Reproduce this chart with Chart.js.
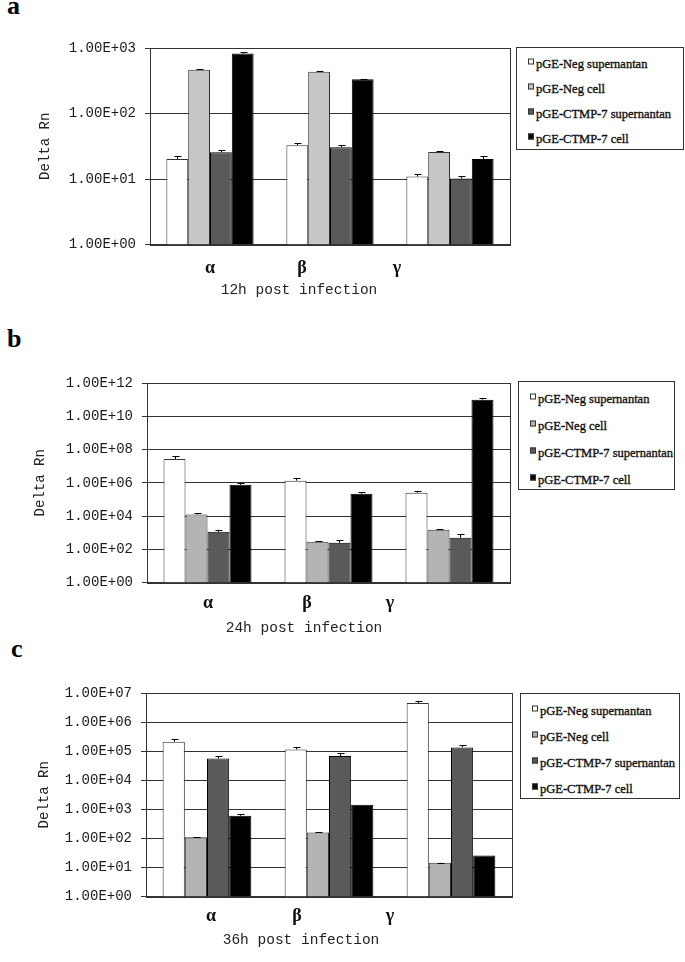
<!DOCTYPE html>
<html>
<head>
<meta charset="utf-8">
<script src="https://cdn.jsdelivr.net/npm/chart.js@4.4.1/dist/chart.umd.min.js"></script>
<style>
  body { margin: 0; background: #fff; }
  #page { position: relative; width: 685px; height: 962px; overflow: hidden; }
  canvas { position: absolute; left: 0; }
  .tag { position: absolute; font: bold 26px "Liberation Serif", serif; line-height: 26px; color: #000; }
  .cat { position: absolute; font: bold 18px "Liberation Serif", serif; line-height: 18px; transform: translate(-50%, -50%); color: #111; }
  .xtitle { position: absolute; font: 14.5px "Liberation Mono", monospace; line-height: 16px; transform: translate(-50%, -50%); color: #222; white-space: nowrap; }
  .legend { position: absolute; border: 1px solid #333; box-sizing: border-box; background: #fff; }
  .legend div { position: absolute; left: 11px; display: flex; align-items: center; font: 12.5px "Liberation Serif", serif; -webkit-text-stroke: 0.35px #111; color: #111; white-space: nowrap; transform: translateY(-50%); }
  .legend i { display: inline-block; width: 4px; height: 4px; border: 1px solid #333; margin-right: 2px; position: relative; top: -3px; }
</style>
</head>
<body>
<div id="page"></div>
<script>
// categorias e séries
const categories = ['α', 'β', 'γ'];
const seriesNames = ['pGE-Neg supernantan', 'pGE-Neg cell', 'pGE-CTMP-7 supernantan', 'pGE-CTMP-7 cell'];

// a) 12h
const ticks12 = [1, 10, 100, 1000];
const negSup12 = [20.2, 32.8, 10.9];
const negCell12 = [467, 435, 25.9];
const ctmpSup12 = [25.6, 30.6, 10.2];
const ctmpCell12 = [821, 333, 20.2];
const negSupErr12 = [2, 2.7, 1.1];
const negCellErr12 = [15, 15, 0.9];
const ctmpSupErr12 = [2.5, 2.2, 1.1];
const ctmpCellErr12 = [60, 7, 2];

// b) 24h
const ticks24 = [1, 1e2, 1e4, 1e6, 1e8, 1e10, 1e12];
const negSup24 = [2.7e7, 1.34e6, 2.5e5];
const negCell24 = [1.25e4, 282, 1490];
const ctmpSup24 = [1130, 246, 493];
const ctmpCell24 = [7.6e5, 2.2e5, 1.0e11];
const negSupErr24 = [1.2e7, 5.1e5, 8e4];
const negCellErr24 = [1900, 42, 220];
const ctmpSupErr24 = [360, 143, 365];
const ctmpCellErr24 = [1.5e5, 7e4, 2e10];

// c) 36h
const ticks36 = [1, 10, 100, 1e3, 1e4, 1e5, 1e6, 1e7];
const negSup36 = [2.1e5, 1.15e5, 4.5e6];
const negCell36 = [110, 160, 14.5];
const ctmpSup36 = [5.6e4, 6.8e4, 1.35e5];
const ctmpCell36 = [600, 1440, 25.8];
const negSupErr36 = [4.2e4, 2.3e4, 9e5];
const negCellErr36 = [2, 3, 0.3];
const ctmpSupErr36 = [1.3e4, 1.6e4, 2.7e4];
const ctmpCellErr36 = [66, 0, 0];

const panels = [
  {
    tag: 'a', tagPos: [7, -7], canvasTop: 20, plot: { left: 150, top: 48, right: 510, bottom: 244 }, titleLeft: 37,
    legend: { x: 516, y: 47, w: 168, h: 103, first: 16, step: 25 },
    catX: [210, 302, 397], catY: 267, xTitle: '12h post infection', xTitlePos: [299, 290],
    fills: ['#ffffff', '#c6c6c6', '#5a5a5a', '#000000'],
    ticks: ticks12,
    values: [negSup12, negCell12, ctmpSup12, ctmpCell12],
    errors: [negSupErr12, negCellErr12, ctmpSupErr12, ctmpCellErr12]
  },
  {
    tag: 'b', tagPos: [7, 326], canvasTop: 350, plot: { left: 147, top: 383, right: 510, bottom: 582 }, titleLeft: 32,
    legend: { x: 518, y: 381, w: 157, h: 109, first: 17, step: 27 },
    catX: [208, 307, 390], catY: 602, xTitle: '24h post infection', xTitlePos: [304, 628],
    fills: ['#ffffff', '#b4b4b4', '#5a5a5a', '#000000'],
    ticks: ticks24,
    values: [negSup24, negCell24, ctmpSup24, ctmpCell24],
    errors: [negSupErr24, negCellErr24, ctmpSupErr24, ctmpCellErr24]
  },
  {
    tag: 'c', tagPos: [11, 636], canvasTop: 660, plot: { left: 146, top: 693, right: 512, bottom: 896 }, titleLeft: 36,
    legend: { x: 520, y: 693, w: 160, h: 106, first: 17, step: 26 },
    catX: [211, 297, 390], catY: 915, xTitle: '36h post infection', xTitlePos: [301, 940],
    fills: ['#ffffff', '#b4b4b4', '#5a5a5a', '#000000'],
    ticks: ticks36,
    values: [negSup36, negCell36, ctmpSup36, ctmpCell36],
    errors: [negSupErr36, negCellErr36, ctmpSupErr36, ctmpCellErr36]
  }
];

// barras de erro (só para cima) e moldura da área do gráfico
const errorBars = {
  id: 'errorBars',
  beforeDatasetsDraw(chart) {
    const { ctx, chartArea: a } = chart;
    ctx.save();
    ctx.strokeStyle = '#333';
    ctx.lineWidth = 1;
    ctx.strokeRect(Math.round(a.left) + 0.5, Math.round(a.top) + 0.5, Math.round(a.right - a.left), Math.round(a.bottom - a.top));
    ctx.restore();
  },
  afterDatasetsDraw(chart) {
    const ctx = chart.ctx;
    const y = chart.scales.y;
    ctx.save();
    ctx.strokeStyle = '#000';
    ctx.lineWidth = 1;
    chart.data.datasets.forEach((ds, i) => {
      chart.getDatasetMeta(i).data.forEach((bar, j) => {
        const e = ds.errors[j];
        if (!e) return;
        const x = Math.round(bar.x) + 0.5;
        const top = Math.round(y.getPixelForValue(ds.data[j] + e)) + 0.5;
        ctx.beginPath();
        ctx.moveTo(x, bar.y);
        ctx.lineTo(x, top);
        ctx.moveTo(x - 3, top);
        ctx.lineTo(x + 4, top);
        ctx.stroke();
      });
    });
    ctx.restore();
  }
};

function sci(v) {
  const [m, e] = v.toExponential(2).toUpperCase().split('E');
  const n = parseInt(e, 10);
  return m + 'E' + (n < 0 ? '-' : '+') + String(Math.abs(n)).padStart(2, '0');
}

const page = document.getElementById('page');

panels.forEach((p, k) => {
  // letra do painel
  const tag = document.createElement('div');
  tag.className = 'tag';
  tag.textContent = p.tag;
  tag.style.left = p.tagPos[0] + 'px';
  tag.style.top = p.tagPos[1] + 'px';
  page.appendChild(tag);

  // canvas (a área do gráfico fica 18px acima do fundo)
  const cv = document.createElement('canvas');
  const w = p.plot.right + 10;
  const h = p.plot.bottom - p.canvasTop + 18;
  cv.width = w; cv.height = h;
  cv.style.top = p.canvasTop + 'px';
  cv.style.width = w + 'px'; cv.style.height = h + 'px';
  page.appendChild(cv);

  new Chart(cv.getContext('2d'), {
    type: 'bar',
    data: {
      labels: categories,
      datasets: seriesNames.map((name, i) => ({
        label: name,
        data: p.values[i],
        errors: p.errors[i],
        backgroundColor: p.fills[i],
        borderColor: i < 2 ? '#333' : '#000',
        borderWidth: 1,
        categoryPercentage: 0.727,
        barPercentage: 1.0
      }))
    },
    options: {
      responsive: false,
      animation: false,
      devicePixelRatio: 1,
      layout: { padding: { left: p.titleLeft, top: p.plot.top - p.canvasTop, right: 10, bottom: 12 } },
      scales: {
        x: {
          ticks: { display: false },
          grid: { display: false },
          border: { display: false },
          afterFit: s => { s.height = 0; }
        },
        y: {
          type: 'logarithmic',
          min: p.ticks[0],
          max: p.ticks[p.ticks.length - 1],
          afterBuildTicks: s => { s.ticks = p.ticks.map(v => ({ value: v })); },
          afterFit: s => { s.width = p.plot.left - p.titleLeft; },
          ticks: {
            autoSkip: false,
            padding: 9,
            color: '#1a1a1a',
            font: { family: 'Liberation Mono', size: 14 },
            callback: v => sci(v)
          },
          grid: { color: '#333', lineWidth: 1, tickLength: 5 },
          border: { color: '#333' },
          title: {
            display: true,
            text: 'Delta Rn',
            color: '#222',
            padding: 0,
            font: { family: 'Liberation Mono', size: 14 }
          }
        }
      },
      plugins: { legend: { display: false }, tooltip: { enabled: false } }
    },
    plugins: [errorBars]
  });

  // rótulos das categorias e título do eixo x
  categories.forEach((c, i) => {
    const d = document.createElement('div');
    d.className = 'cat';
    d.textContent = c;
    d.style.left = p.catX[i] + 'px';
    d.style.top = p.catY + 'px';
    page.appendChild(d);
  });
  const xt = document.createElement('div');
  xt.className = 'xtitle';
  xt.textContent = p.xTitle;
  xt.style.left = p.xTitlePos[0] + 'px';
  xt.style.top = p.xTitlePos[1] + 'px';
  page.appendChild(xt);

  // legenda em caixa
  const lg = document.createElement('div');
  lg.className = 'legend';
  lg.style.left = p.legend.x + 'px';
  lg.style.top = p.legend.y + 'px';
  lg.style.width = p.legend.w + 'px';
  lg.style.height = p.legend.h + 'px';
  seriesNames.forEach((name, i) => {
    const row = document.createElement('div');
    row.style.top = (p.legend.first + i * p.legend.step) + 'px';
    const mk = document.createElement('i');
    mk.style.background = p.fills[i];
    row.appendChild(mk);
    row.appendChild(document.createTextNode(name));
    lg.appendChild(row);
  });
  page.appendChild(lg);
});
</script>
</body>
</html>
